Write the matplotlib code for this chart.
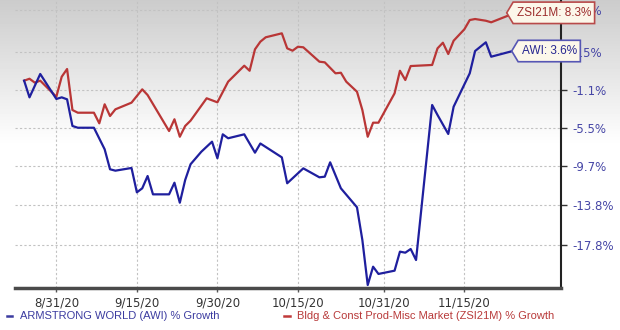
import matplotlib
matplotlib.use("Agg")
import matplotlib.pyplot as plt
import numpy as np
import pandas as pd
from matplotlib.path import Path
from matplotlib.lines import Line2D

# ---------------- data ----------------
awi_dates = ["2020-08-25", "2020-08-26", "2020-08-28", "2020-08-31", "2020-09-01", "2020-09-02",
             "2020-09-03", "2020-09-04", "2020-09-07", "2020-09-09", "2020-09-10", "2020-09-11",
             "2020-09-14", "2020-09-15", "2020-09-16", "2020-09-17", "2020-09-18", "2020-09-21",
             "2020-09-22", "2020-09-23", "2020-09-24", "2020-09-25", "2020-09-27", "2020-09-29",
             "2020-09-30", "2020-10-01", "2020-10-02", "2020-10-05", "2020-10-07", "2020-10-08",
             "2020-10-12", "2020-10-13", "2020-10-16", "2020-10-19", "2020-10-20", "2020-10-21",
             "2020-10-23", "2020-10-26", "2020-10-27", "2020-10-28", "2020-10-29", "2020-10-30",
             "2020-11-02", "2020-11-03", "2020-11-04", "2020-11-05", "2020-11-06", "2020-11-09",
             "2020-11-10", "2020-11-12", "2020-11-13", "2020-11-16", "2020-11-17", "2020-11-19",
             "2020-11-20", "2020-11-24"]
awi_growth = [0.0, -1.97, 0.80, -2.16, -1.97, -2.20,
              -5.26, -5.46, -5.46, -7.86, -10.03, -10.18,
              -9.89, -12.47, -12.05, -10.75, -12.68, -12.68,
              -11.46, -13.55, -11.17, -9.49, -8.13, -7.02,
              -8.84, -6.20, -6.64, -6.20, -8.23, -7.22,
              -8.74, -11.52, -9.93, -10.89, -10.82, -9.28,
              -12.05, -14.02, -17.31, -21.63, -19.90, -20.59,
              -20.28, -18.45, -18.55, -18.19, -19.26, -2.86,
              -4.01, -6.16, -3.06, 0.88, 3.60, 4.68,
              2.90, 3.60]

zsi_dates = ["2020-08-25", "2020-08-26", "2020-08-27", "2020-08-28", "2020-08-31", "2020-09-01",
             "2020-09-02", "2020-09-03", "2020-09-04", "2020-09-07", "2020-09-08", "2020-09-09",
             "2020-09-10", "2020-09-11", "2020-09-14", "2020-09-16", "2020-09-17", "2020-09-21",
             "2020-09-22", "2020-09-23", "2020-09-24", "2020-09-25", "2020-09-28", "2020-09-30",
             "2020-10-02", "2020-10-05", "2020-10-06", "2020-10-07", "2020-10-08", "2020-10-09",
             "2020-10-12", "2020-10-13", "2020-10-14", "2020-10-15", "2020-10-16", "2020-10-19",
             "2020-10-20", "2020-10-22", "2020-10-23", "2020-10-24", "2020-10-26", "2020-10-27",
             "2020-10-28", "2020-10-29", "2020-10-30", "2020-11-02", "2020-11-03", "2020-11-04",
             "2020-11-05", "2020-11-09", "2020-11-10", "2020-11-11", "2020-11-12", "2020-11-13",
             "2020-11-15", "2020-11-16", "2020-11-17", "2020-11-19", "2020-11-20", "2020-11-24"]
zsi_growth = [0.0, 0.23, -0.24, 0.0, -1.90, 0.47,
              1.40, -3.44, -3.75, -3.75, -4.96, -2.78,
              -4.13, -3.36, -2.59, -1.03, -1.70, -5.83,
              -4.50, -6.47, -5.26, -4.66, -2.08, -2.55,
              -0.12, 1.80, 1.19, 3.81, 4.76, 5.31,
              5.81, 3.93, 3.64, 4.13, 4.06, 2.29,
              2.21, 0.88, 0.95, -0.12, -1.31, -3.44,
              -6.47, -4.89, -4.89, -1.50, 1.19, 0.08,
              1.76, 1.89, 3.93, 4.63, 3.23, 4.88,
              6.32, 7.50, 7.63, 7.41, 7.21, 8.30]

xtick_dates = ["2020-08-31", "2020-09-15", "2020-09-30", "2020-10-15", "2020-10-31", "2020-11-15"]
xtick_labels = ["8/31/20", "9/15/20", "9/30/20", "10/15/20", "10/31/20", "11/15/20"]
ytick_values = [8.8, 3.5, -1.1, -5.5, -9.7, -13.8, -17.8]
ytick_labels = ["8.8%", "3.5%", "-1.1%", "-5.5%", "-9.7%", "-13.8%", "-17.8%"]

awi_name = "ARMSTRONG WORLD (AWI) % Growth"
zsi_name = "Bldg & Const Prod-Misc Market (ZSI21M) % Growth"
awi_tag = "AWI: 3.6%"
zsi_tag = "ZSI21M: 8.3%"

# ---------------- styling ----------------
W, H = 620, 330
BLUE = "#1f1f9e"
RED = "#b93636"

fig = plt.figure(figsize=(W / 100, H / 100), dpi=100)

# gradient background
bg = fig.add_axes([0, 0, 1, 1], zorder=0)
grad = np.clip(0.80 + 0.20 * np.arange(H) / 145.0, 0, 1)
img = np.repeat(grad[:, None], 2, axis=1)
bg.imshow(img, cmap="gray", vmin=0, vmax=1, aspect="auto", extent=[0, 1, 0, 1], origin="upper")
bg.axis("off")

ax = fig.add_axes([15 / W, 42 / H, (561 - 15) / W, 288 / H], zorder=1)
ax.patch.set_alpha(0)

ad = pd.to_datetime(awi_dates)
zd = pd.to_datetime(zsi_dates)
ay = 1 + np.array(awi_growth) / 100
zy = 1 + np.array(zsi_growth) / 100

ax.plot(zd, zy, color=RED, lw=1.6, solid_joinstyle="round", zorder=3)
ax.plot(ad, ay, color=BLUE, lw=1.6, solid_joinstyle="round", zorder=3)

ax.set_yscale("log")
ax.yaxis.set_minor_locator(matplotlib.ticker.NullLocator())
ax.set_yticks([1 + v / 100 for v in ytick_values])
ax.set_yticklabels(ytick_labels)
ax.set_ylim(0.7809, 1.1010)

t0 = pd.Timestamp("2020-08-31")
ax.set_xlim(t0 - pd.Timedelta(days=7.7), t0 + pd.Timedelta(days=94.0))
ax.set_xticks(pd.to_datetime(xtick_dates))
ax.set_xticklabels(xtick_labels)
ax.xaxis.set_minor_locator(matplotlib.ticker.NullLocator())

ax.yaxis.tick_right()
ax.tick_params(axis="y", length=4, width=1, color="#333333", labelcolor="#4646a6",
               labelsize=8.5, pad=4, direction="out")
ax.tick_params(axis="x", length=3, width=1, color="#555555", labelcolor="#333333",
               labelsize=8.5, pad=3, direction="out")

ax.grid(True, color="#c2c2c2", linestyle=(0, (2, 2)), linewidth=0.8)
ax.set_axisbelow(True)

for s in ("top", "left"):
    ax.spines[s].set_visible(False)
ax.spines["bottom"].set_color("#4a4a4a")
ax.spines["bottom"].set_linewidth(2.5)
ax.spines["right"].set_color("#222222")
ax.spines["right"].set_linewidth(1.5)


def tag_box(x0, y0, width, height, mutation_size):
    padx = 0.3 * mutation_size
    pady = 0.4 * mutation_size
    x0 -= padx
    y0 -= pady
    w = width + 2 * padx
    h = height + 2 * pady
    t = 0.3 * h
    verts = [(x0 - t, y0 + h / 2), (x0, y0), (x0 + w, y0), (x0 + w, y0 + h),
             (x0, y0 + h), (x0 - t, y0 + h / 2)]
    codes = [Path.MOVETO] + [Path.LINETO] * 4 + [Path.CLOSEPOLY]
    return Path(verts, codes)


ax.annotate(zsi_tag, xy=(zd[-1], zy[-1]), xytext=(4, 1), textcoords="offset pixels",
            ha="left", va="center", fontsize=8.5, color="#9c2c2c", family="Liberation Sans",
            bbox=dict(boxstyle=tag_box, fc="#fcf7ea", ec="#b84a4a", lw=1.2),
            zorder=6, annotation_clip=False)
ax.annotate(awi_tag, xy=(ad[-1], ay[-1]), xytext=(9, 0), textcoords="offset pixels",
            ha="left", va="center", fontsize=8.5, color="#262690", family="Liberation Sans",
            bbox=dict(boxstyle=tag_box, fc="#fcf7ea", ec="#5656b4", lw=1.2),
            zorder=6, annotation_clip=False)

# legend
ly = 1 - 316 / H
fig.add_artist(Line2D([7 / W, 12 / W], [ly, ly], color="#3c3ca0", lw=1.8))
fig.text(20 / W, ly, awi_name, color="#3c3ca0", fontsize=8, family="Liberation Sans",
         va="center", ha="left")
fig.add_artist(Line2D([284 / W, 290 / W], [ly, ly], color="#c03a3a", lw=1.8))
fig.text(297 / W, ly, zsi_name, color="#b83a3a", fontsize=8, family="Liberation Sans",
         va="center", ha="left")

fig.savefig("out.png", dpi=100)
